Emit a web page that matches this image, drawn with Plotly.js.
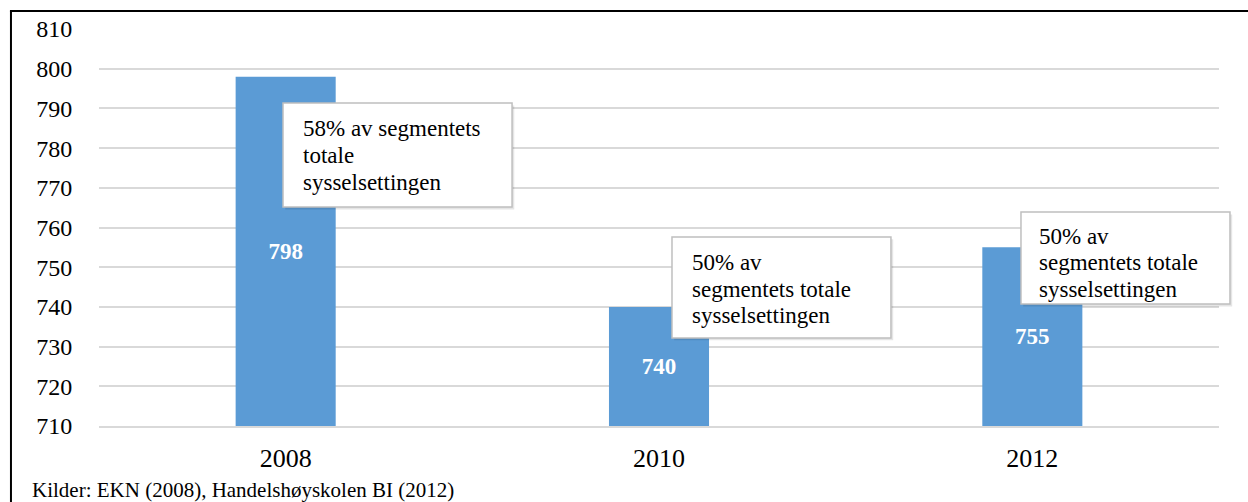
<!DOCTYPE html>
<html>
<head>
<meta charset="utf-8">
<script src="https://cdn.plot.ly/plotly-3.0.1.min.js"></script>
<style>
html,body{margin:0;padding:0;background:#fff;}
#chart{width:1248px;height:502px;}
</style>
</head>
<body>
<div id="chart"></div>
<script>
// Data
const years = ["2008", "2010", "2012"];
const employees = [798, 740, 755];
const valueLabels = ["798", "740", "755"];
const noteLines = [
  ["58% av segmentets", "totale", "sysselsettingen"],
  ["50% av", "segmentets totale", "sysselsettingen"],
  ["50% av", "segmentets totale", "sysselsettingen"]
];
const yTicks = [710, 720, 730, 740, 750, 760, 770, 780, 790, 800, 810];
const axisBase = 710;
const sourceText = "Kilder: EKN (2008), Handelshøyskolen BI (2012)";

const serif = "'Liberation Serif', 'Times New Roman', serif";

const trace = {
  type: "bar",
  x: years,
  y: employees.map(v => v - axisBase),
  base: axisBase,
  text: valueLabels,
  texttemplate: "<b>%{text}</b>",
  textposition: "inside",
  insidetextanchor: "middle",
  textangle: 0,
  textfont: {family: serif, size: 23, color: "#ffffff"},
  marker: {color: "#5B9BD5", line: {width: 0}},
  hoverinfo: "none"
};

// note boxes (paper coords): x0, x1, yTop, yBottom, text left, line centres
const boxes = [
  {x0: 0.1643, x1: 0.3688, y1: 0.8136, y0: 0.5516, tx: 0.1821, ly: [0.7506, 0.6826, 0.6146]},
  {x0: 0.5116, x1: 0.7071, y1: 0.4761, y0: 0.2217, tx: 0.5295, ly: [0.4106, 0.3426, 0.2771]},
  {x0: 0.8232, x1: 1.0098, y1: 0.5390, y0: 0.3073, tx: 0.8393, ly: [0.4761, 0.4106, 0.3426]}
];

const shapes = [];
const annotations = [];
boxes.forEach((b, i) => {
  // faint shadow
  shapes.push({type: "rect", xref: "paper", yref: "paper", layer: "above",
    x0: b.x0 + 0.002, x1: b.x1 + 0.002, y0: b.y0 - 0.006, y1: b.y1 - 0.006,
    line: {width: 0}, fillcolor: "rgba(0,0,0,0.10)"});
  shapes.push({type: "rect", xref: "paper", yref: "paper", layer: "above",
    x0: b.x0, x1: b.x1, y0: b.y0, y1: b.y1,
    line: {color: "#BFBFBF", width: 1.5}, fillcolor: "#ffffff"});
  noteLines[i].forEach((line, j) => {
    annotations.push({
      xref: "paper", yref: "paper",
      x: b.tx, y: b.ly[j], xanchor: "left", yanchor: "middle",
      text: line, showarrow: false, align: "left",
      borderpad: 0, borderwidth: 0,
      font: {family: serif, size: 23, color: "#000000"}
    });
  });
});

annotations.push({
  xref: "paper", yref: "paper",
  x: -0.0598, y: -0.1612, xanchor: "left", yanchor: "middle",
  text: sourceText, showarrow: false, borderpad: 0, borderwidth: 0,
  font: {family: serif, size: 21, color: "#000000"}
});

// outer frame (left and top edges)
shapes.push({type: "line", xref: "paper", yref: "paper", x0: -0.0786, x1: -0.0786, y0: 1.0453, y1: -0.25, line: {color: "#000000", width: 2}});
shapes.push({type: "line", xref: "paper", yref: "paper", x0: -0.0795, x1: 1.05, y0: 1.0453, y1: 1.0453, line: {color: "#000000", width: 2}});

const layout = {
  width: 1248, height: 502,
  margin: {l: 99, r: 29, t: 29, b: 76},
  paper_bgcolor: "#ffffff", plot_bgcolor: "#ffffff",
  showlegend: false,
  bargap: 0.732,
  xaxis: {
    type: "category",
    showgrid: false,
    showline: true, linecolor: "#D9D9D9", linewidth: 2,
    ticks: "outside", ticklen: 8, tickcolor: "rgba(0,0,0,0)",
    tickfont: {family: serif, size: 26, color: "#000000"},
    fixedrange: true
  },
  yaxis: {
    range: [710, 810],
    tickvals: yTicks,
    ticktext: yTicks.map(String),
    showgrid: true, gridcolor: "#D9D9D9", gridwidth: 2,
    zeroline: false, showline: false,
    ticks: "outside", ticklen: 21, tickcolor: "rgba(0,0,0,0)",
    tickfont: {family: serif, size: 24, color: "#000000"},
    fixedrange: true
  },
  shapes: shapes,
  annotations: annotations
};

Plotly.newPlot("chart", [trace], layout, {displayModeBar: false, staticPlot: true});
</script>
</body>
</html>
